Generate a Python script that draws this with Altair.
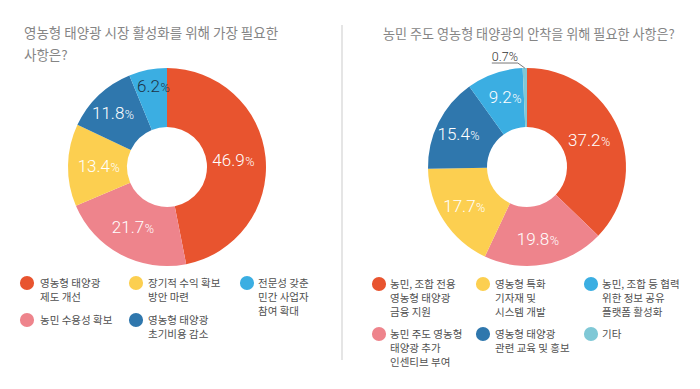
import math
import altair as alt
import pandas as pd

# ---------------- data ----------------
left_title = "영농형 태양광 시장 활성화를 위해 가장 필요한\n사항은?"
left_cats = [
    "영농형 태양광\n제도 개선",
    "농민 수용성 확보",
    "장기적 수익 확보\n방안 마련",
    "영농형 태양광\n초기비용 감소",
    "전문성 갖춘\n민간 사업자\n참여 확대",
]
left_vals = [46.9, 21.7, 13.4, 11.8, 6.2]

right_title = "농민 주도 영농형 태양광의 안착을 위해 필요한 사항은?"
right_cats = [
    "농민, 조합 전용\n영농형 태양광\n금융 지원",
    "농민 주도 영농형\n태양광 추가\n인센티브 부여",
    "영농형 특화\n기자재 및\n시스템 개발",
    "영농형 태양광\n관련 교육 및 홍보",
    "농민, 조합 등 협력\n위한 정보 공유\n플랫폼 활성화",
    "기타",
]
right_vals = [37.2, 19.8, 17.7, 15.4, 9.2, 0.7]

# ---------------- style ----------------
palette = ["#E8542F", "#EE848C", "#FCCF50", "#2F77AD", "#3BAEE2", "#7FC8D6"]
W, H = 684, 372
INNER, OUTER = 40, 99
NUM_FONT = "Roboto"
KR_FONT = "Noto Sans CJK KR"

panels = [
    dict(title=left_title, cats=left_cats, vals=left_vals, cx=159, cy=159,
         lab_r=[69, 68, 66, 75, 83],
         lab_col=["white", "white", "white", "white", "#1d3347"],
         title_x=16, title_y=30, title_size=13.5,
         dot_x=[19, 128, 239], txt_x=[32, 140, 250], row_y=[275, 312]),
    dict(title=right_title, cats=right_cats, vals=right_vals, cx=519, cy=159,
         lab_r=[70, 73, 72, 74, 74, 0],
         lab_col=["white"] * 6,
         title_x=375, title_y=31, title_size=13.1,
         dot_x=[371, 475, 583], txt_x=[382, 487, 594], row_y=[276, 326]),
]

layers = []

for p in panels:
    n = len(p["vals"])
    total = sum(p["vals"])
    cum = [sum(p["vals"][:i]) for i in range(n)]
    df = pd.DataFrame({
        "idx": list(range(n)),
        "v": p["vals"],
        "c": palette[:n],
        "num": [f"{v:.1f}" if v >= 1 else "" for v in p["vals"]],
        "pct": ["%" if v >= 1 else "" for v in p["vals"]],
        "lr": p["lab_r"],
        "tc": p["lab_col"],
        "mid": [(cum[i] + p["vals"][i] / 2) / total * 2 * math.pi for i in range(n)],
    })
    arcs = alt.Chart(df).mark_arc(innerRadius=INNER, outerRadius=OUTER,
                                  x=p["cx"], y=p["cy"]).encode(
        theta=alt.Theta("v:Q", stack=True),
        order=alt.Order("idx:Q", sort="ascending"),
        color=alt.Color("c:N", scale=None))
    lab = alt.Chart(df).encode(
        theta=alt.Theta("mid:Q", scale=None),
        radius=alt.Radius("lr:Q", scale=None),
        color=alt.Color("tc:N", scale=None))
    nums = lab.mark_text(x=p["cx"], y=p["cy"], align="right", baseline="alphabetic",
                         dx=9, dy=6, font=NUM_FONT, fontSize=17, fontWeight=300).encode(
        text="num:N")
    pcts = lab.mark_text(x=p["cx"], y=p["cy"], align="left", baseline="alphabetic",
                         dx=9.5, dy=6, font=NUM_FONT, fontSize=12.5, fontWeight=300).encode(
        text="pct:N")
    layers += [arcs, nums, pcts]

    # title
    tdf = pd.DataFrame({"t": [p["title"]]})
    layers.append(alt.Chart(tdf).mark_text(
        align="left", baseline="alphabetic", font=KR_FONT, fontSize=p["title_size"],
        color="#858585", lineBreak="\n", lineHeight=21.5).encode(
        text="t:N", x=alt.value(p["title_x"]), y=alt.value(p["title_y"])))

    # custom legend (column-major, 2 rows)
    ldf = pd.DataFrame({
        "lab": p["cats"],
        "c": palette[:n],
        "px": [p["dot_x"][i // 2] for i in range(n)],
        "tx": [p["txt_x"][i // 2] for i in range(n)],
        "py": [p["row_y"][i % 2] for i in range(n)],
    })
    ldf["ty"] = ldf["py"] + 4
    layers.append(alt.Chart(ldf).mark_circle(size=200, opacity=1).encode(
        x=alt.X("px:Q", scale=None, axis=None),
        y=alt.Y("py:Q", scale=None, axis=None),
        color=alt.Color("c:N", scale=None)))
    layers.append(alt.Chart(ldf).mark_text(
        align="left", baseline="alphabetic", font=KR_FONT, fontSize=10.5,
        color="#505050", lineBreak="\n", lineHeight=14.2).encode(
        x=alt.X("tx:Q", scale=None, axis=None),
        y=alt.Y("ty:Q", scale=None, axis=None),
        text="lab:N"))

# small-slice callout (0.7%) on the right donut
rp = panels[1]
before = sum(right_vals[:-1])
mid = (before + right_vals[-1] / 2) / sum(right_vals) * 2 * math.pi
ex = rp["cx"] + OUTER * math.sin(mid)
ey = rp["cy"] - OUTER * math.cos(mid)
lead = pd.DataFrame({
    "k": [0, 1, 2],
    "x": [ex, ex - 7, ex - 33],
    "y": [ey, ey - 5, ey - 5],
})
layers.append(alt.Chart(lead).mark_line(color="#555555", strokeWidth=0.8).encode(
    x=alt.X("x:Q", scale=None, axis=None),
    y=alt.Y("y:Q", scale=None, axis=None),
    order="k:Q"))
cdf = pd.DataFrame({"t": [f"{right_vals[-1]:.1f}%"], "x": [ex - 20], "y": [ey - 7]})
layers.append(alt.Chart(cdf).mark_text(
    align="center", baseline="alphabetic", font=NUM_FONT, fontSize=12.5,
    fontWeight=300, color="#333333").encode(
    x=alt.X("x:Q", scale=None, axis=None),
    y=alt.Y("y:Q", scale=None, axis=None),
    text="t:N"))

# divider
layers.append(alt.Chart(pd.DataFrame({"a": [0]})).mark_rule(
    color="#dcdcdc", strokeWidth=1.5).encode(
    x=alt.value(334), y=alt.value(17), y2=alt.value(352)))

chart = alt.layer(*layers).properties(
    width=W, height=H, autosize="none", padding=0, background="white"
).configure_view(stroke=None)

chart.save("out.html", embed_options={"renderer": "svg", "actions": False})
